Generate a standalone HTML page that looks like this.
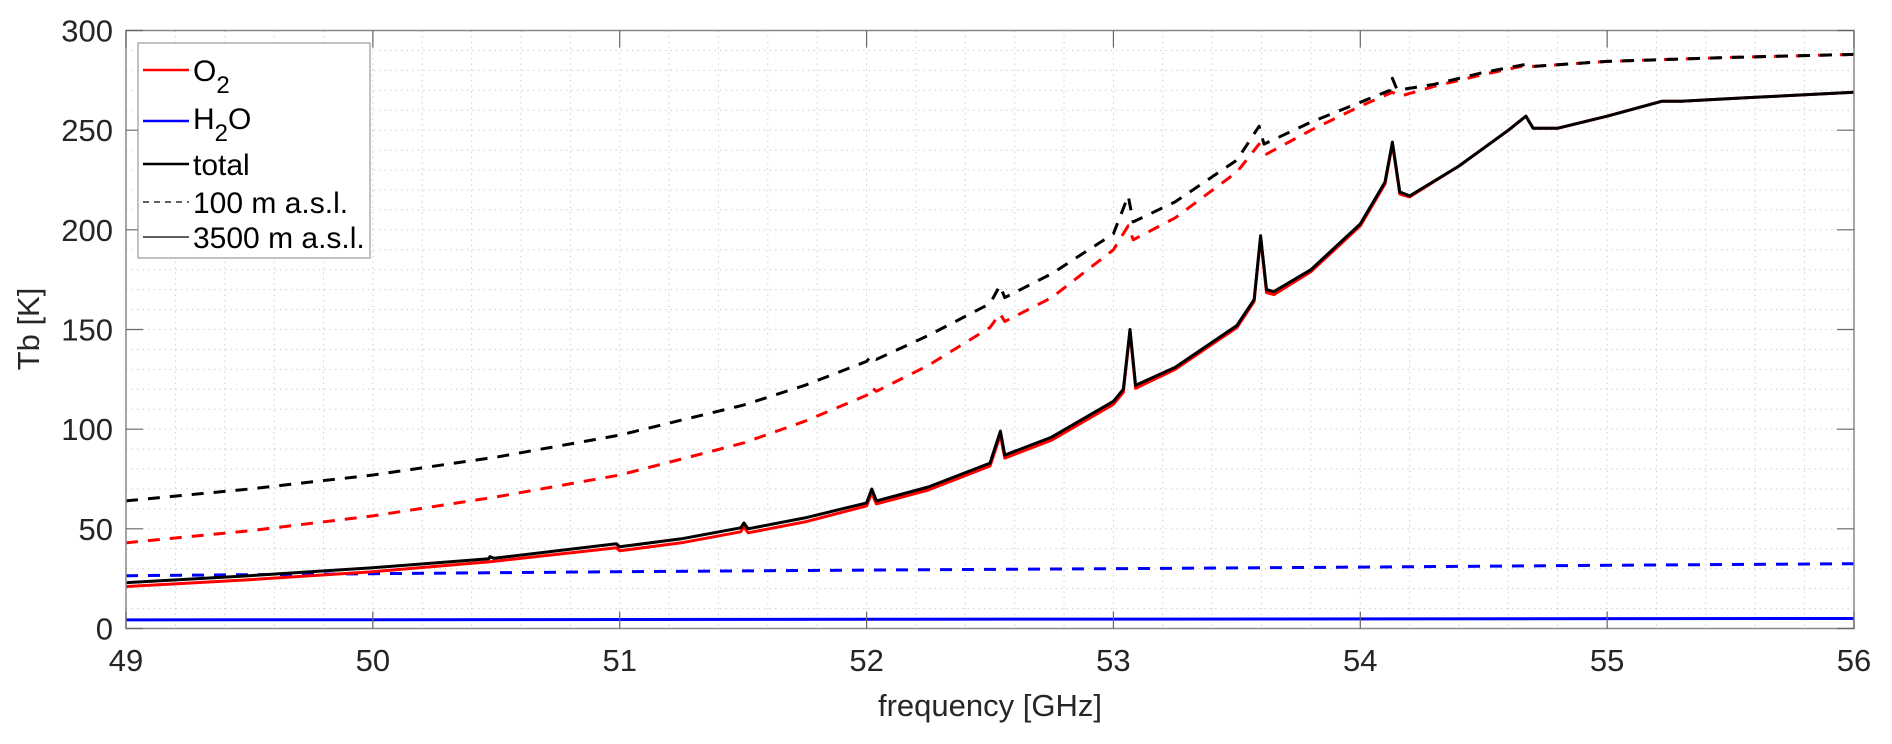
<!DOCTYPE html>
<html><head><meta charset="utf-8">
<style>
html,body{margin:0;padding:0;background:#fff;}
svg{display:block;font-family:"Liberation Sans",sans-serif;}
</style></head>
<body>
<svg id="chart" width="1892" height="744" viewBox="0 0 1892 744" xmlns="http://www.w3.org/2000/svg">
<g id="grid"></g>
<g id="series"></g>
<g id="axes"></g>
<text x="990" y="716" font-size="31" text-anchor="middle" fill="#262626">frequency [GHz]</text>
<text transform="translate(39,329) rotate(-90)" font-size="31" text-anchor="middle" fill="#262626">Tb [K]</text>
<g>
<rect x="138" y="43" width="232" height="215" fill="#fff" stroke="#999" stroke-width="1.2"/>
<g><line x1="143" y1="70" x2="189" y2="70" stroke="#ff0000" stroke-width="2.5"/><text x="193" y="81" font-size="30">O<tspan font-size="24" dy="12">2</tspan></text></g>
<g><line x1="143" y1="121" x2="189" y2="121" stroke="#0000ff" stroke-width="2.5"/><text x="193" y="129" font-size="30">H<tspan font-size="24" dy="12">2</tspan><tspan dy="-12">O</tspan></text></g>
<g><line x1="143" y1="164" x2="189" y2="164" stroke="#000" stroke-width="2.5"/><text x="193" y="175" font-size="30">total</text></g>
<g><line x1="143" y1="202" x2="189" y2="202" stroke="#000" stroke-width="1.3" stroke-dasharray="6,5"/><text x="193" y="213" font-size="30">100 m a.s.l.</text></g>
<g><line x1="143" y1="237" x2="189" y2="237" stroke="#000" stroke-width="1.3"/><text x="193" y="248" font-size="30">3500 m a.s.l.</text></g>
</g>
</svg>
<script>
const xTicks=[49,50,51,52,53,54,55,56];
const yTicks=[0,50,100,150,200,250,300];
const totalHigh=[[49,23],[49.5,26.5],[50,30.5],[50.47,35],[50.474,36],[50.49,35.2],[51,41],[50.987,42.5],[51.25,45],[51.49,50.5],[51.503,53],[51.52,50],[51.75,55.5],[52,63],[52.021,70],[52.04,64],[52.25,71],[52.5,83],[52.542,99],[52.56,87],[52.75,96],[53,114],[53.04,120],[53.067,150],[53.09,122],[53.25,131],[53.5,152],[53.57,165],[53.596,197],[53.62,170],[53.65,169],[53.8,180],[54,203],[54.1,224],[54.13,244],[54.16,219],[54.2,217],[54.4,232],[54.6,250],[54.671,257],[54.7,251],[54.8,251],[55,257],[55.221,264.5],[55.3,264.5],[55.6,266.5],[56,269]];
const o2High=[[49,21],[49.5,24.5],[50,28.5],[50.474,33.5],[51,39],[50.987,40.5],[51.25,43],[51.49,48.5],[51.503,51],[51.52,48],[51.75,53.5],[52,61.5],[52.021,68],[52.04,62.5],[52.25,69.5],[52.5,81.5],[52.542,97],[52.56,85.5],[52.75,94.5],[53,112.5],[53.04,118.5],[53.067,149],[53.09,120.5],[53.25,130],[53.5,151],[53.57,164],[53.596,196],[53.62,168.5],[53.65,167.5],[53.8,179],[54,202],[54.1,223],[54.13,243],[54.16,218],[54.2,216.5],[54.4,232],[54.6,250],[54.671,257],[54.7,251],[54.8,251],[55,257],[55.221,264.5],[55.3,264.5],[55.6,266.5],[56,269]];
const totalLow=[[49,64],[49.5,70],[50,77],[50.5,86],[51,97],[51.5,112],[51.75,122],[52,134],[52.02,137],[52.04,135],[52.25,147],[52.5,163],[52.54,172],[52.56,166],[52.75,178],[53,198],[53.06,217],[53.08,204],[53.25,214],[53.5,235],[53.59,252],[53.61,243],[53.8,254],[54,264],[54.12,270],[54.13,276],[54.15,270],[54.3,273],[54.5,279],[54.67,283],[54.7,282],[55,284.5],[55.5,286.5],[56,288]];
const o2Low=[[49,43],[49.5,49],[50,56.5],[50.5,66],[51,77],[51.5,93],[51.75,104],[52,117],[52.02,121],[52.04,119],[52.25,132],[52.5,151],[52.54,158],[52.56,154],[52.75,166],[53,190],[53.06,202],[53.08,195],[53.25,206],[53.5,229],[53.59,243],[53.62,238],[53.8,250],[54,262],[54.13,269],[54.16,267],[54.3,272],[54.5,278],[54.67,282.5],[54.7,282],[55,284.5],[55.5,286.5],[56,288]];
const h2oLow=[[49,26.5],[50,27.5],[51,28.5],[52,29.3],[53,30],[54,30.8],[55,31.7],[56,32.5]];
const h2oHigh=[[49,4.3],[52,4.6],[56,5]];

const L=126,R=1854,T=30.5,B=628.5;
function xs(f){return L+(f-49)/(56-49)*(R-L);}
function ys(v){return B-v/300*(B-T);}
const NS="http://www.w3.org/2000/svg";
function mk(tag,parent){const e=document.createElementNS(NS,tag);parent.appendChild(e);return e;}
const grid=document.getElementById('grid'),axes=document.getElementById('axes'),ser=document.getElementById('series');
for(let i=0;i<=35;i++){const f=49+i*0.2;const l=mk('line',grid);


l.setAttribute('x1',xs(f));l.setAttribute('x2',xs(f));l.setAttribute('y1',T);l.setAttribute('y2',B);l.setAttribute('stroke','#d0d0d0');l.setAttribute('stroke-width','1');l.setAttribute('stroke-dasharray','1.5,4');}
for(let v=0;v<=300;v+=10){const l=mk('line',grid);


l.setAttribute('x1',L);l.setAttribute('x2',R);l.setAttribute('y1',ys(v));l.setAttribute('y2',ys(v));l.setAttribute('stroke','#d0d0d0');l.setAttribute('stroke-width','1');l.setAttribute('stroke-dasharray','1.5,4');}
function draw(data,color,width,dash,name){
 const pts=data.slice().sort((a,b)=>a[0]-b[0]).map(p=>xs(p[0]).toFixed(1)+','+ys(p[1]).toFixed(1)).join(' ');
 const pl=mk('polyline',ser);
 
 
 pl.setAttribute('points',pts);pl.setAttribute('fill','none');pl.setAttribute('stroke',color);pl.setAttribute('stroke-width',width);pl.setAttribute('stroke-linejoin','round');
 if(dash)pl.setAttribute('stroke-dasharray',dash);}
draw(h2oHigh,'#0000ff',3,null,'h2o-3500m-line');
draw(h2oLow,'#0000ff',3,'12,10','h2o-100m-line');
draw(o2Low,'#ff0000',3,'12,10','o2-100m-line');
draw(totalLow,'#000',3,'12,10','total-100m-line');
draw(o2High,'#ff0000',3,null,'o2-3500m-line');
draw(totalHigh,'#000',3,null,'total-3500m-line');
const box=mk('rect',axes);


box.setAttribute('x',L);box.setAttribute('y',T);box.setAttribute('width',R-L);box.setAttribute('height',B-T);box.setAttribute('fill','none');box.setAttribute('stroke','#888');box.setAttribute('stroke-width','1.5');
xTicks.forEach(f=>{[[B,B-17],[T,T+17]].forEach(p=>{const l=mk('line',axes);


l.setAttribute('x1',xs(f));l.setAttribute('x2',xs(f));l.setAttribute('y1',p[0]);l.setAttribute('y2',p[1]);l.setAttribute('stroke','#666');l.setAttribute('stroke-width','1.2');});
const t=mk('text',axes);


t.setAttribute('x',xs(f));t.setAttribute('y',671);t.setAttribute('font-size','31');t.setAttribute('text-anchor','middle');t.setAttribute('fill','#262626');t.textContent=f;});
yTicks.forEach(v=>{[[L,L+17],[R,R-17]].forEach(p=>{const l=mk('line',axes);


l.setAttribute('x1',p[0]);l.setAttribute('x2',p[1]);l.setAttribute('y1',ys(v));l.setAttribute('y2',ys(v));l.setAttribute('stroke','#666');l.setAttribute('stroke-width','1.2');});
const t=mk('text',axes);


t.setAttribute('x',113);t.setAttribute('y',ys(v)+11);t.setAttribute('font-size','31');t.setAttribute('text-anchor','end');t.setAttribute('fill','#262626');t.textContent=v;});
</script>
</body></html>
